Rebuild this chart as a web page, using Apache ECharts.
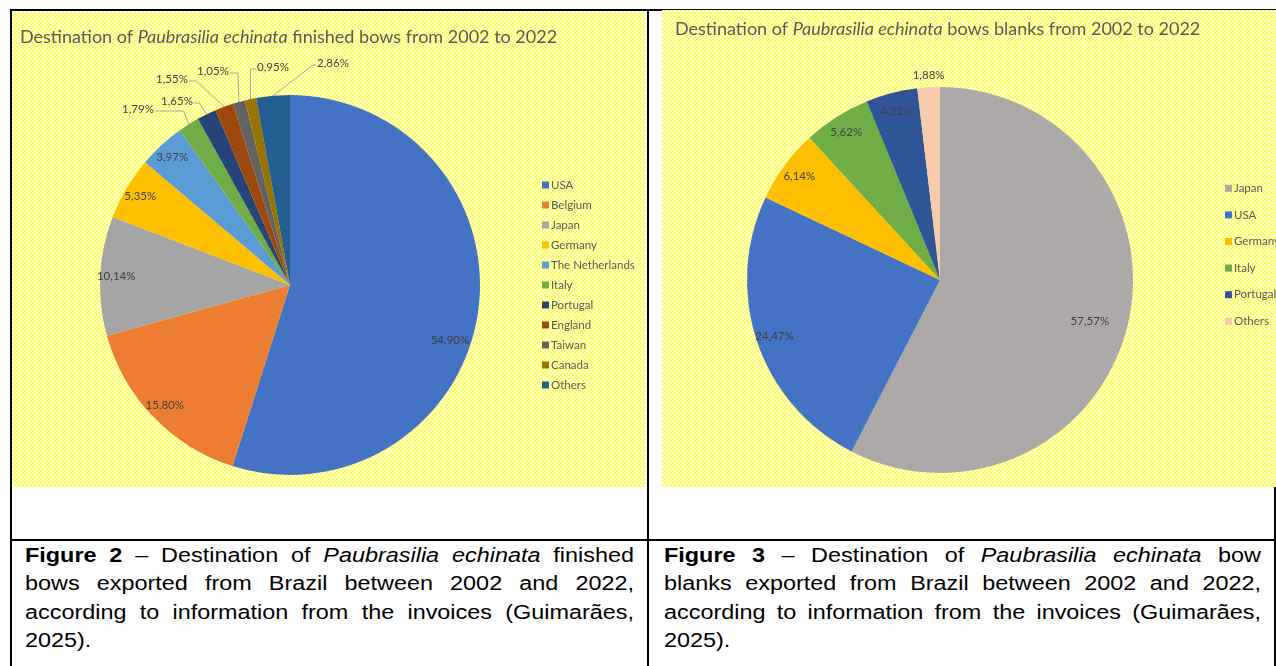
<!DOCTYPE html>
<html>
<head>
<meta charset="utf-8">
<script src="https://cdn.jsdelivr.net/npm/echarts@6/dist/echarts.min.js"></script>
<style>
  html, body { margin: 0; padding: 0; background: #fff; width: 1276px; height: 666px; overflow: hidden; position: relative; }
  .ln { position: absolute; background: #000; z-index: 1; }
  .chart { position: absolute; z-index: 2;
    background-color: #ffff9a;
    background-image: conic-gradient(#ffff55 25%, #ffffdc 0 50%, #ffff55 0 75%, #ffffdc 0);
    background-size: 4px 4px; }
  .cap { position: absolute; z-index: 3; font-family: "Liberation Sans", Arial, sans-serif; font-size: 19.5px; color: #000;
    transform: scaleX(1.2); transform-origin: 0 0; }
  .cap div { height: 28.3px; line-height: 28.3px; white-space: nowrap; }
  .cap div.j { text-align: justify; text-align-last: justify; white-space: normal; }
</style>
</head>
<body>
<div class="ln" style="left:10px;top:9px;width:1266px;height:2px"></div>
<div class="ln" style="left:10px;top:9px;width:2px;height:657px"></div>
<div class="ln" style="left:647px;top:9px;width:2px;height:657px"></div>
<div class="ln" style="left:10px;top:539px;width:1266px;height:2px"></div>
<div class="ln" style="left:1274px;top:9px;width:2px;height:657px"></div>

<div id="c1" class="chart" style="left:12px;top:12px;width:634px;height:475px"></div>
<div id="c2" class="chart" style="left:662px;top:10px;width:614px;height:477px"></div>

<div class="cap" style="left:25px;top:541px;width:507.5px">
  <div class="j"><b>Figure 2</b> – Destination of <i>Paubrasilia echinata</i> finished</div>
  <div class="j">bows exported from Brazil between 2002 and 2022,</div>
  <div class="j">according to information from the invoices (Guimarães,</div>
  <div>2025).</div>
</div>
<div class="cap" style="left:664px;top:541px;width:497.5px">
  <div class="j"><b>Figure 3</b> – Destination of <i>Paubrasilia echinata</i> bow</div>
  <div class="j">blanks exported from Brazil between 2002 and 2022,</div>
  <div class="j">according to information from the invoices (Guimarães,</div>
  <div>2025).</div>
</div>

<script>
// ---- Data ----
const bowsCategories = ['USA', 'Belgium', 'Japan', 'Germany', 'The Netherlands', 'Italy', 'Portugal', 'England', 'Taiwan', 'Canada', 'Others'];
const bowsValues = [54.90, 15.80, 10.14, 5.35, 3.97, 1.79, 1.65, 1.55, 1.05, 0.95, 2.86];
const blanksCategories = ['Japan', 'USA', 'Germany', 'Italy', 'Portugal', 'Others'];
const blanksValues = [57.57, 24.47, 6.14, 5.62, 4.32, 1.88];

// ---- Styles ----
const bowsColors = ['#4472C4', '#ED7D31', '#A5A5A5', '#FFC000', '#5B9BD5', '#70AD47', '#264478', '#9E480E', '#636363', '#997300', '#255E91'];
const blanksColors = ['#ADA9A8', '#4472C4', '#FFC000', '#70AD47', '#2F5597', '#F8CBAD'];
const FONT = 'Lato, "Open Sans", sans-serif';
const TXT = '#404040';
const LEG = '#595959';

// label placement (relative to pie centre) for the small slices of the left pie: [dx, dy, elbowFraction]
const bowsOutsideLabels = {5: [-152, -176, 0.15], 6: [-113, -184, 0.58], 7: [-118, -206, 0.79], 8: [-77, -214, 0.1], 9: [-17, -218, 0], 10: [43, -222, 0.93]};
// small nudges for inside labels (best-fit placement in the original)
const bowsInsideNudge = {0: [-12, 29]};
const blanksInsideNudge = {0: [-20, 0]};

function fmt(v) { return v.toFixed(2).replace('.', ',') + '%'; }

function buildPie(el, cats, vals, colors, opts) {
  const chart = echarts.init(document.getElementById(el), null, {renderer: 'canvas'});
  const dataA = cats.map((c, i) => ({name: c, value: vals[i], itemStyle: {color: colors[i]}}));
  const dataB = cats.map((c, i) => {
    const out = opts.isOutside(i);
    return {
      name: c, value: vals[i],
      label: {position: out ? 'outside' : 'inside'},
      labelLine: {show: out}
    };
  });
  chart.setOption({
    animation: false,
    title: {
      text: opts.title,
      left: opts.titleLeft, top: opts.titleTop,
      textStyle: {
        fontWeight: 'normal',
        rich: {
          n: {fontFamily: FONT, fontSize: 18, color: LEG, fontWeight: 'normal'},
          i: {fontFamily: FONT, fontSize: 18, color: LEG, fontWeight: 'normal', fontStyle: 'italic'}
        }
      }
    },
    legend: {
      orient: 'vertical',
      left: opts.legendLeft, top: opts.legendTop,
      itemWidth: 7, itemHeight: 7, itemGap: 0,
      icon: 'rect',
      selectedMode: false,
      textStyle: {fontFamily: FONT, fontSize: 11.5, color: LEG, lineHeight: opts.legendPitch, padding: [0, 0, 0, -3]},
      data: cats
    },
    series: [
      {
        type: 'pie', name: 'A',
        center: opts.center, radius: opts.r,
        startAngle: 90, clockwise: true,
        avoidLabelOverlap: false,
        label: {show: false}, labelLine: {show: false},
        itemStyle: {borderWidth: 0},
        emphasis: {disabled: true},
        data: dataA
      },
      {
        type: 'pie', name: 'B', silent: true,
        center: opts.center, radius: [opts.r * opts.inner, opts.r],
        startAngle: 90, clockwise: true,
        avoidLabelOverlap: false,
        itemStyle: {color: 'rgba(0,0,0,0)', borderWidth: 0},
        emphasis: {disabled: true},
        label: {show: true, fontFamily: FONT, fontSize: 11.5, color: TXT,
          formatter: p => fmt(p.value)},
        labelLine: {length: 10, length2: 10, lineStyle: {color: '#A6A6A6', width: 1}},
        labelLayout: opts.labelLayout,
        data: dataB
      }
    ]
  });
  return chart;
}

const CX1 = 278, CY1 = 273, R1 = 190;
buildPie('c1', bowsCategories, bowsValues, bowsColors, {
  title: '{n|Destination of }{i|Paubrasilia echinata}{n| finished bows from 2002 to 2022}',
  titleLeft: 3, titleTop: 11,
  legendLeft: 525, legendTop: 158, legendPitch: 20,
  center: [CX1, CY1], r: R1, inner: 0.8,
  isOutside: i => i >= 5,
  labelLayout: function (p) {
    const n = bowsInsideNudge[p.dataIndex];
    if (n) return {dx: n[0], dy: n[1]};
    const o = bowsOutsideLabels[p.dataIndex];
    if (!o || !p.labelLinePoints) return {};
    const x = CX1 + o[0], y = CY1 + o[1];
    const w = p.labelRect.width;
    const p0 = p.labelLinePoints[0];
    const endX = (x < p0[0]) ? x + w / 2 + 1 : x - w / 2 - 1;
    const ly = y + 2;
    const elbowX = p0[0] + (endX - p0[0]) * o[2];
    return {x: x, y: y, align: 'center', verticalAlign: 'middle',
      labelLinePoints: [p0, [elbowX, ly], [endX, ly]]};
  }
});

const CX2 = 278, CY2 = 270, R2 = 193;
buildPie('c2', blanksCategories, blanksValues, blanksColors, {
  title: '{n|Destination of }{i|Paubrasilia echinata}{n| bows blanks from 2002 to 2022}',
  titleLeft: 8, titleTop: 5,
  legendLeft: 558, legendTop: 160, legendPitch: 26.6,
  center: [CX2, CY2], r: R2, inner: 0.78,
  isOutside: i => i === 5,
  labelLayout: function (p) {
    const n = blanksInsideNudge[p.dataIndex];
    if (n) return {dx: n[0], dy: n[1]};
    if (p.dataIndex !== 5 || !p.labelLinePoints) return {};
    const p0 = p.labelLinePoints[0];
    return {x: p0[0], y: p0[1] - 12, align: 'center', verticalAlign: 'middle', labelLinePoints: [p0, p0, p0]};
  }
});
</script>
</body>
</html>
